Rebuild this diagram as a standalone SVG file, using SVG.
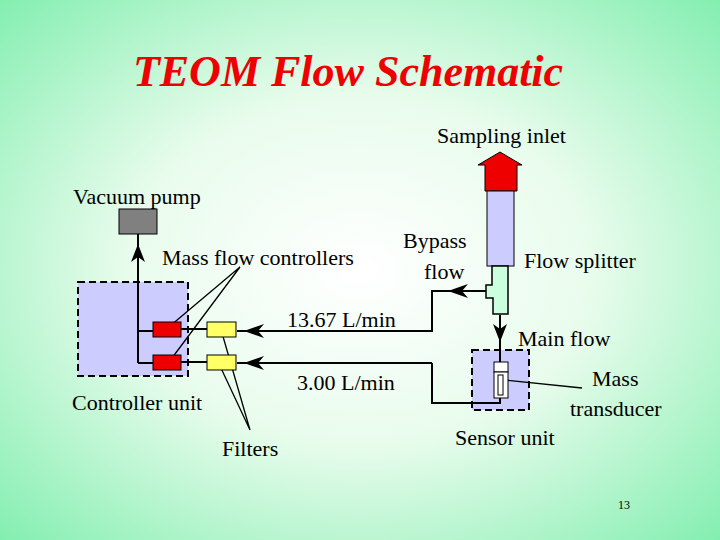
<svg xmlns="http://www.w3.org/2000/svg" width="720" height="540" viewBox="0 0 720 540">
<defs>
<radialGradient id="bg" cx="50%" cy="50%" r="72%">
<stop offset="0" stop-color="#ffffff"/><stop offset="0.45" stop-color="#e8fcec"/><stop offset="1" stop-color="#80eeae"/>
</radialGradient>
</defs>
<style>
.ln{fill:none;stroke:#000;stroke-width:2}
.th{fill:none;stroke:#000;stroke-width:1.3}
.box{fill:#ccccff;stroke:#000;stroke-width:2;stroke-dasharray:7,4}
.red{fill:#ee0000;stroke:#000;stroke-width:1}
.yel{fill:#ffff66;stroke:#000;stroke-width:1}
.t{font-family:"Liberation Serif","DejaVu Serif",serif;font-size:22px}
</style>
<rect width="720" height="540" fill="url(#bg)"/>
<g id="controller-unit"><rect class="box" x="78" y="282" width="110" height="94"/></g>
<g id="sensor-unit-box"><rect class="box" x="472" y="350" width="57" height="60"/></g>
<g id="connectors">
<path class="ln" d="M492,291 H432 V331 H237"/>
<path class="ln" d="M432,363 V403 H500 V398"/>
<path class="ln" d="M432,363 H237"/>
<path class="ln" d="M500,315 V362"/>
<path class="ln" d="M138,363 V234"/>
<path class="ln" d="M138,331 H153 M138,363 H153 M181,329 H207 M181,362 H207"/>
<path class="th" d="M240,267 L170,326 M240,267 L172,358 M250,430 L222,333 M250,430 L220,366 M505,380 L582,388"/>
<path d="M448,291 L468,284 L462,291 L468,298 Z"/>
<path d="M244,331 L264,324 L258,331 L264,338 Z"/>
<path d="M244,363 L264,356 L258,363 L264,370 Z"/>
<path d="M138,244 L131,262 L138,257 L145,262 Z"/>
<path d="M500,342 L493,324 L500,329 L507,324 Z"/>
</g>
<g id="mfc1"><rect class="red" x="153" y="322" width="28" height="15"/></g>
<g id="mfc2"><rect class="red" x="153" y="355" width="28" height="15"/></g>
<g id="filter1"><rect class="yel" x="207" y="322" width="29" height="15"/></g>
<g id="filter2"><rect class="yel" x="207" y="355" width="29" height="15"/></g>
<g id="vacuum-pump"><rect x="119" y="209" width="38" height="25" fill="#808080" stroke="#000"/></g>
<g id="inlet">
<path d="M478,165 L500,152 L522,165 H517 V191 H485 V165 Z" fill="#ee0000" stroke="#000"/>
<rect x="487" y="191" width="27" height="75" fill="#ccccff" stroke="#000"/>
</g>
<g id="splitter">
<path d="M492,266 H508 V314 H493 V298 H486 V285 H492 Z" fill="#ccffdd" stroke="#000" stroke-width="1.5"/>
</g>
<g id="sensor-unit">
<rect x="494" y="362" width="14" height="10" fill="#fff" stroke="#000"/>
<rect x="494" y="372" width="14" height="26" fill="#fff" stroke="#000"/>
<rect x="498" y="375" width="5" height="20" fill="#fff" stroke="#000"/>
</g>
<g id="labels">
<text class="t" x="348" y="86" text-anchor="middle" style="font-size:44px;font-weight:bold;font-style:italic;fill:#ee0000">TEOM Flow Schematic</text>
<text class="t" x="437" y="143">Sampling inlet</text>
<text class="t" x="73" y="204">Vacuum pump</text>
<text class="t" x="162" y="265">Mass flow controllers</text>
<text class="t" x="403" y="248">Bypass</text>
<text class="t" x="424" y="279">flow</text>
<text class="t" x="524" y="268">Flow splitter</text>
<text class="t" x="287" y="327">13.67 L/min</text>
<text class="t" x="518" y="346">Main flow</text>
<text class="t" x="297" y="390">3.00 L/min</text>
<text class="t" x="592" y="386">Mass</text>
<text class="t" x="570" y="416">transducer</text>
<text class="t" x="72" y="410">Controller unit</text>
<text class="t" x="455" y="445">Sensor unit</text>
<text class="t" x="222" y="456">Filters</text>
<text class="t" x="618" y="509" style="font-size:12px">13</text>
</g>
</svg>
